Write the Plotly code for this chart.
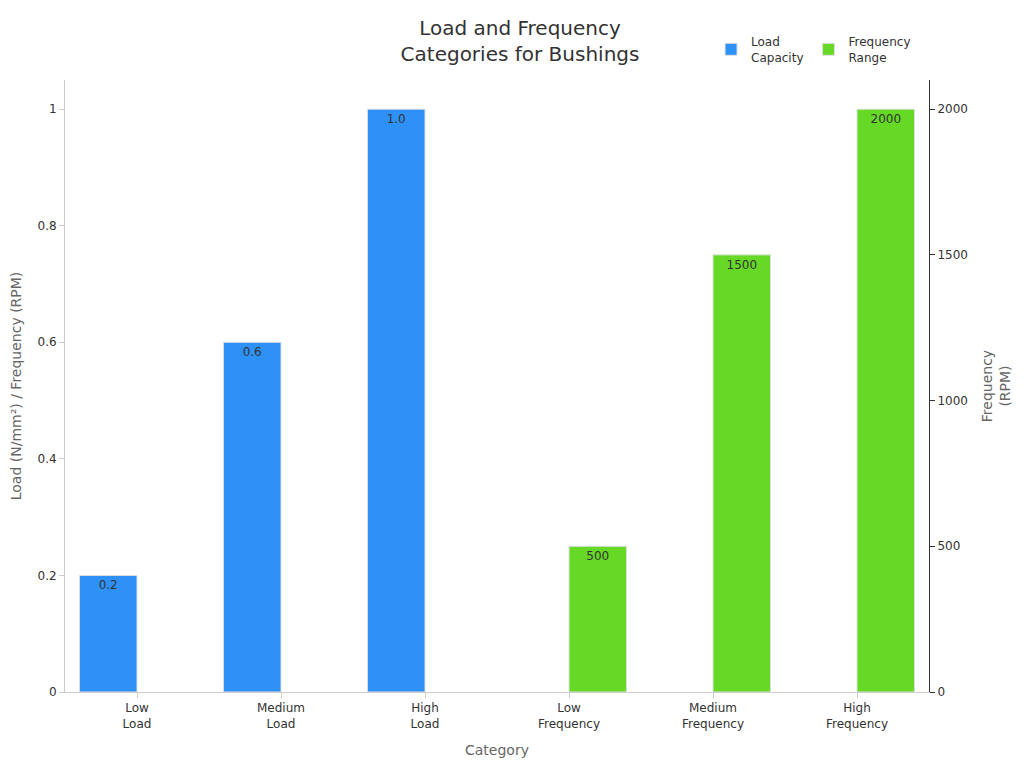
import plotly.graph_objects as go

categories = ["Low<br>Load", "Medium<br>Load", "High<br>Load",
              "Low<br>Frequency", "Medium<br>Frequency", "High<br>Frequency"]
load_values = [0.2, 0.6, 1.0, None, None, None]
load_labels = ["0.2", "0.6", "1.0", "", "", ""]
freq_values = [None, None, None, 500, 1500, 2000]
freq_labels = ["", "", "", "500", "1500", "2000"]

fig = go.Figure()

fig.add_trace(go.Bar(
    x=categories, y=load_values, name="Load<br>Capacity",
    marker=dict(color="#2e91f8", line=dict(color="#e0e0e0", width=1)),
    text=load_labels, textposition="inside", insidetextanchor="end",
    textfont=dict(color="#333333", size=12), offsetgroup="a", yaxis="y",
))
fig.add_trace(go.Bar(
    x=categories, y=freq_values, name="Frequency<br>Range",
    marker=dict(color="#66d926", line=dict(color="#e0e0e0", width=1)),
    text=freq_labels, textposition="inside", insidetextanchor="end",
    textfont=dict(color="#333333", size=12), offsetgroup="b", yaxis="y2",
))

fig.update_layout(
    width=1024, height=768,
    title=dict(text="Load and Frequency<br>Categories for Bushings",
               x=0.5, xanchor="center", y=0.965, font=dict(size=20, color="#333333")),
    font=dict(family="DejaVu Sans", color="#333333", size=12),
    barmode="group", bargap=0.2,
    paper_bgcolor="white", plot_bgcolor="white",
    margin=dict(l=57, r=103, t=72, b=84, autoexpand=False),
    xaxis=dict(title=dict(text="Category", font=dict(size=14, color="#666666")),
               showline=True, linecolor="#cccccc", ticks="outside",
               tickcolor="#cccccc", tickfont=dict(size=12)),
    yaxis=dict(title=dict(text="Load (N/mm²) / Frequency (RPM)", font=dict(size=14, color="#666666")),
               range=[0, 1.05], dtick=0.2, showgrid=False, zeroline=False,
               showline=True, linecolor="#cccccc", ticks="outside", tickcolor="#cccccc"),
    yaxis2=dict(title=dict(text="Frequency<br>(RPM)", font=dict(size=14, color="#666666")),
                overlaying="y", side="right", range=[0, 2100], dtick=500,
                showgrid=False, zeroline=False, showline=True, linecolor="#333333",
                ticks="outside", tickcolor="#333333"),
    legend=dict(orientation="h", x=0.985, xanchor="right", y=0.975, yanchor="top",
                yref="container", font=dict(size=12)),
)

fig.write_html("out.html")
